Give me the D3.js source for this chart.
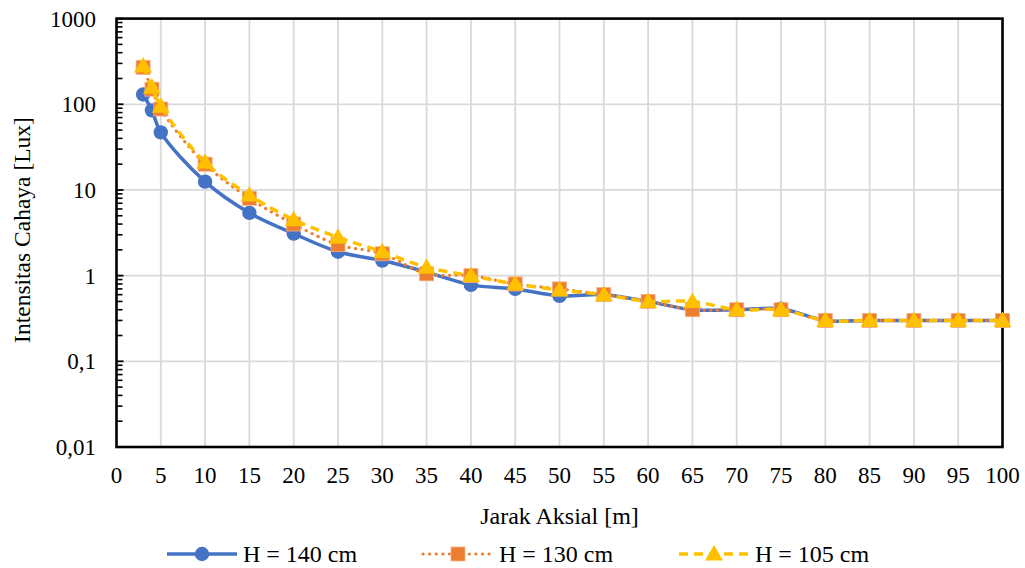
<!DOCTYPE html>
<html>
<head>
<meta charset="utf-8">
<script src="https://cdn.jsdelivr.net/npm/d3@7"></script>
<style>
  html, body { margin: 0; padding: 0; background: #fff; }
  svg { display: block; }
</style>
</head>
<body>
<svg id="chart" width="1025" height="568"></svg>
<script>
// Axial distance (m) of each measurement point
const distances = [3, 4, 5, 10, 15, 20, 25, 30, 35, 40, 45, 50, 55, 60, 65, 70, 75, 80, 85, 90, 95, 100];

// Light intensity (lux) for each lamp height
const h140 = [130, 85, 47, 12.5, 5.4, 3.1, 1.9, 1.5, 1.1, 0.78, 0.7, 0.58, 0.6, 0.5, 0.4, 0.4, 0.41, 0.3, 0.3, 0.3, 0.3, 0.3];
const h130 = [270, 150, 88, 20, 8.0, 4.0, 2.3, 1.8, 1.05, 1.0, 0.8, 0.7, 0.6, 0.5, 0.4, 0.4, 0.4, 0.3, 0.3, 0.3, 0.3, 0.3];
const h105 = [280, 158, 95, 21, 8.7, 4.5, 2.8, 1.9, 1.25, 1.0, 0.8, 0.68, 0.6, 0.5, 0.5, 0.4, 0.4, 0.3, 0.3, 0.3, 0.3, 0.3];

const seriesNames = ["H = 140 cm", "H = 130 cm", "H = 105 cm"];
const xTicks = d3.range(0, 101, 5);
const yTicks = [0.01, 0.1, 1, 10, 100, 1000];
const yTickLabels = ["0,01", "0,1", "1", "10", "100", "1000"];

const FONT = "Liberation Serif";

const series = [
  { name: seriesNames[0], values: h140, color: "#4472C4", dash: null, width: 3.5, marker: "circle" },
  { name: seriesNames[1], values: h130, color: "#ED7D31", dash: "0.1 6.5", width: 3.2, marker: "square" },
  { name: seriesNames[2], values: h105, color: "#FFC000", dash: "9 6", width: 3.5, marker: "triangle" }
];

const svg = d3.select("#chart").attr("font-family", FONT);
const plot = { left: 116.5, right: 1002.5, top: 18.6, bottom: 447 };

const x = d3.scaleLinear().domain([0, 100]).range([plot.left, plot.right]);
const y = d3.scaleLog().domain([0.01, 1000]).range([plot.bottom, plot.top]);

// Gridlines
svg.append("g").selectAll("line").data(xTicks.slice(1)).join("line")
  .attr("x1", d => x(d)).attr("x2", d => x(d))
  .attr("y1", plot.top).attr("y2", plot.bottom)
  .attr("stroke", "#d9d9d9").attr("stroke-width", 1.8);
svg.append("g").selectAll("line").data(yTicks.slice(1, -1)).join("line")
  .attr("x1", plot.left).attr("x2", plot.right)
  .attr("y1", d => y(d)).attr("y2", d => y(d))
  .attr("stroke", "#d9d9d9").attr("stroke-width", 1.8);

// Minor log ticks on the value axis, pointing inward
const minor = [];
for (let e = -2; e < 3; e++) {
  for (let m = 2; m <= 9; m++) minor.push(m * Math.pow(10, e));
}
svg.append("g").selectAll("line").data(minor).join("line")
  .attr("x1", plot.left).attr("x2", plot.left + 6)
  .attr("y1", d => y(d)).attr("y2", d => y(d))
  .attr("stroke", "#000").attr("stroke-width", 1.6);
svg.append("g").selectAll("line").data(yTicks).join("line")
  .attr("x1", plot.left).attr("x2", plot.left + 7)
  .attr("y1", d => y(d)).attr("y2", d => y(d))
  .attr("stroke", "#000").attr("stroke-width", 1.8);

// Plot frame
svg.append("rect")
  .attr("x", plot.left).attr("y", plot.top)
  .attr("width", plot.right - plot.left).attr("height", plot.bottom - plot.top)
  .attr("fill", "none").attr("stroke", "#000").attr("stroke-width", 2.6);

// Tick labels
svg.append("g").selectAll("text").data(yTicks).join("text")
  .attr("x", 96).attr("y", d => y(d)).attr("dy", "0.35em")
  .attr("text-anchor", "end").attr("font-size", 23)
  .text((d, i) => yTickLabels[i]);
svg.append("g").selectAll("text").data(xTicks).join("text")
  .attr("x", d => x(d)).attr("y", 475).attr("dy", "0.35em")
  .attr("text-anchor", "middle").attr("font-size", 23)
  .text(d => d);

// Axis titles
svg.append("text")
  .attr("x", x(50)).attr("y", 516).attr("dy", "0.35em")
  .attr("text-anchor", "middle").attr("font-size", 24)
  .text("Jarak Aksial [m]");
svg.append("text")
  .attr("transform", `translate(22, 230) rotate(-90)`)
  .attr("dy", "0.35em")
  .attr("text-anchor", "middle").attr("font-size", 23.5)
  .text("Intensitas Cahaya [Lux]");

function drawMarker(g, type, cx, cy, color) {
  if (type === "circle") {
    g.append("circle").attr("cx", cx).attr("cy", cy).attr("r", 7.2).attr("fill", color);
  } else if (type === "square") {
    g.append("rect").attr("x", cx - 7).attr("y", cy - 7).attr("width", 14).attr("height", 14)
      .attr("fill", color).attr("stroke", "#F4B183").attr("stroke-width", 0.8);
  } else {
    const s = 9;
    g.append("path")
      .attr("d", `M${cx},${cy - s}L${cx + s},${cy + s * 0.72}L${cx - s},${cy + s * 0.72}Z`)
      .attr("fill", color);
  }
}

const line = d3.line()
  .x(d => x(d[0])).y(d => y(d[1]))
  .curve(d3.curveCatmullRom.alpha(0.5));

// Series: line followed by its markers
series.forEach(s => {
  const g = svg.append("g");
  const pts = distances.map((d, i) => [d, s.values[i]]);
  g.append("path").datum(pts)
    .attr("d", line)
    .attr("fill", "none")
    .attr("stroke", s.color)
    .attr("stroke-width", s.width)
    .attr("stroke-linecap", s.dash ? (s.marker === "square" ? "round" : "butt") : "round")
    .attr("stroke-linejoin", "round")
    .attr("stroke-dasharray", s.dash);
  pts.forEach(p => drawMarker(g, s.marker, x(p[0]), y(p[1]), s.color));
});

// Legend
const legendX = [167, 423, 679];
const legendY = 554;
series.forEach((s, i) => {
  const g = svg.append("g");
  const x0 = legendX[i];
  g.append("line")
    .attr("x1", x0).attr("x2", x0 + 70)
    .attr("y1", legendY).attr("y2", legendY)
    .attr("stroke", s.color).attr("stroke-width", s.width)
    .attr("stroke-linecap", s.marker === "square" ? "round" : "butt")
    .attr("stroke-dasharray", s.dash);
  drawMarker(g, s.marker, x0 + 35, legendY, s.color);
  g.append("text")
    .attr("x", x0 + 76).attr("y", legendY).attr("dy", "0.35em")
    .attr("font-size", 24)
    .text(s.name);
});
</script>
</body>
</html>
